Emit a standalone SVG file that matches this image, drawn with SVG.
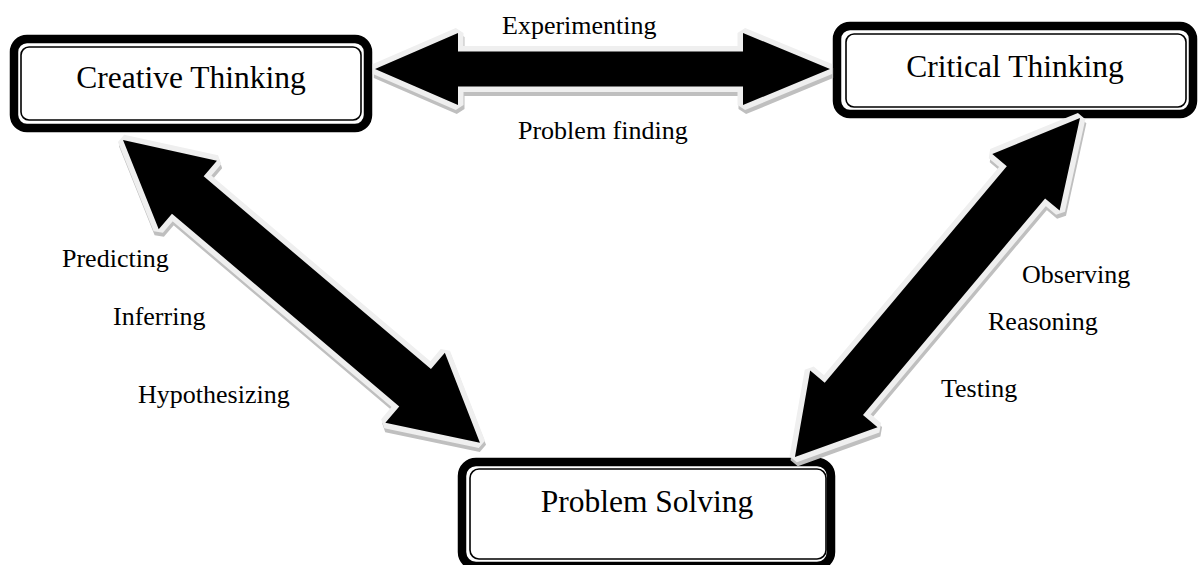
<svg xmlns="http://www.w3.org/2000/svg" xmlns:xlink="http://www.w3.org/1999/xlink" width="1199" height="565" viewBox="0 0 1199 565">
  <style>
    .outer{fill:#fff;stroke:#000;stroke-width:8.5}
    .inner{fill:none;stroke:#000;stroke-width:1.6}
    .title{font-family:"Liberation Serif","Times New Roman",serif;font-size:31.5px;fill:#000;text-anchor:middle}
    .label{font-family:"Liberation Serif","Times New Roman",serif;font-size:26px;fill:#000}
    .shadow{fill:#bfbfbf;stroke:#bfbfbf;stroke-width:11;stroke-linejoin:bevel}
    .arrow{fill:#000;stroke:#efefef;stroke-width:11;stroke-linejoin:bevel;paint-order:stroke}
  </style>
  <defs>
    <!-- double-headed block arrows, drawn along +x from the origin -->
    <polygon id="arrH" points="0,0 83,-36 83,-17.5 368,-17.5 368,-36 455,0 368,36 368,17.5 83,17.5 83,36"/>
    <polygon id="arrL" points="0,0 85,-45 85,-24.5 383,-24.5 383,-46 468,0 383,46 383,24.5 85,24.5 85,45"/>
    <polygon id="arrR" points="0,0 84,-44 84,-25 367,-25 367,-44 443,0 367,44 367,25 84,25 84,44"/>
  </defs>

  <!-- nodes -->
  <g id="creative-thinking">
    <rect class="outer" x="14" y="39" width="354" height="89" rx="13"/>
    <rect class="inner" x="21" y="47" width="340" height="73" rx="8"/>
    <text class="title" x="191" y="88">Creative Thinking</text>
  </g>
  <g id="critical-thinking">
    <rect class="outer" x="837" y="26" width="356" height="88" rx="13"/>
    <rect class="inner" x="846" y="34" width="340" height="73" rx="8"/>
    <text class="title" x="1015" y="77">Critical Thinking</text>
  </g>
  <g id="problem-solving">
    <rect class="outer" x="462" y="462" width="369" height="104" rx="14"/>
    <rect class="inner" x="470" y="469" width="356" height="90" rx="9"/>
    <text class="title" x="647" y="512">Problem Solving</text>
  </g>

  <!-- connectors -->
  <g id="connectors">
    <g transform="translate(1,4)" class="shadow">
      <use xlink:href="#arrH" transform="translate(375,69)"/>
      <use xlink:href="#arrL" transform="translate(123,140) rotate(40.3)"/>
      <use xlink:href="#arrR" transform="translate(1080,118) rotate(130.05)"/>
    </g>
    <g class="arrow">
      <use xlink:href="#arrH" transform="translate(375,69)"/>
      <use xlink:href="#arrL" transform="translate(123,140) rotate(40.3)"/>
      <use xlink:href="#arrR" transform="translate(1080,118) rotate(130.05)"/>
    </g>
  </g>

  <!-- connector labels -->
  <g id="labels">
    <text class="label" x="502" y="34">Experimenting</text>
    <text class="label" x="518" y="139">Problem finding</text>
    <text class="label" x="62" y="267">Predicting</text>
    <text class="label" x="113" y="325">Inferring</text>
    <text class="label" x="138" y="403">Hypothesizing</text>
    <text class="label" x="1022" y="283">Observing</text>
    <text class="label" x="988" y="330">Reasoning</text>
    <text class="label" x="941" y="397">Testing</text>
  </g>
</svg>
